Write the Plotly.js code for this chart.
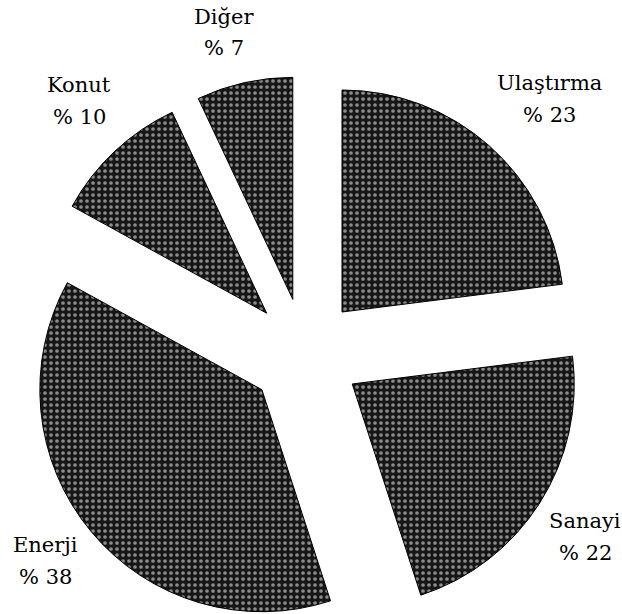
<!DOCTYPE html>
<html>
<head>
<meta charset="utf-8">
<script src="https://cdn.plot.ly/plotly-3.0.1.min.js"></script>
<style>
  html, body { margin: 0; padding: 0; overflow: hidden; background: #fff; }
  #chart { width: 622px; height: 640px; }
</style>
</head>
<body>
<div id="chart"></div>
<script>
// Sector shares (%)
const categories = ["Ulaştırma", "Sanayi", "Enerji", "Konut", "Diğer"];
const shares = [23, 22, 38, 10, 7];

const W = 622, H = 640;
const SERIF = "DejaVu Serif";
// pixel (from top-left) -> paper fraction
const px = (x) => x / W;
const py = (y) => (H - y) / H;

// label anchors in pixels: [x centre, name line centre, value line centre]
const labelPos = [
  [549, 83, 115],   // Ulaştırma
  [585, 521, 553],  // Sanayi
  [45, 545, 577],   // Enerji
  [79, 85, 117],    // Konut
  [224, 17, 48]     // Diğer
];

const trace = {
  type: "pie",
  labels: categories,
  values: shares,
  sort: false,
  direction: "clockwise",
  rotation: 0,
  pull: categories.map(() => 0.252),
  textinfo: "none",
  hoverinfo: "label+percent",
  showlegend: false,
  domain: { x: [px(27), px(583)], y: [py(632), py(76)] },
  marker: {
    colors: categories.map(() => "#161616"),
    line: { color: "#000", width: 1 },
    pattern: {
      shape: ".",
      bgcolor: "#161616",
      fgcolor: "#8c8c8c",
      size: 6,
      solidity: 0.3
    }
  }
};

const labelFont = { family: SERIF, size: 21, color: "#000" };
const annotations = [];
categories.forEach((c, i) => {
  const [x, yName, yVal] = labelPos[i];
  [[c, yName], ["% " + shares[i], yVal]].forEach(([t, y]) => {
    annotations.push({
      text: t,
      xref: "paper", yref: "paper",
      x: px(x), y: py(y),
      xanchor: "center", yanchor: "middle",
      showarrow: false,
      font: labelFont
    });
  });
});

Plotly.newPlot("chart", [trace], {
  width: W, height: H,
  margin: { l: 0, r: 0, t: 0, b: 0 },
  paper_bgcolor: "#fff",
  font: { family: SERIF },
  annotations: annotations
}, { displayModeBar: false, staticPlot: true });
</script>
</body>
</html>
